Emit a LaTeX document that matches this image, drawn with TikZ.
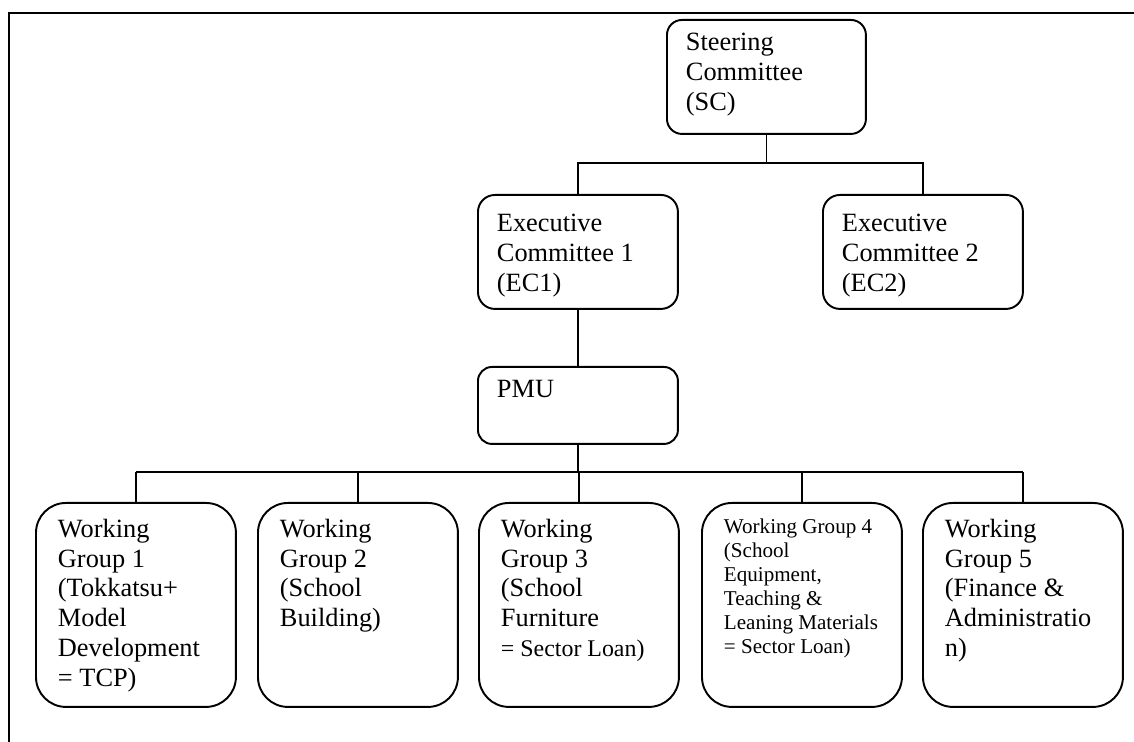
\documentclass[tikz,border=0pt]{standalone}
\usepackage{fontspec}
\setmainfont{Liberation Serif}
\newcommand{\boxtext}[3]{\parbox[c][#1][t]{#2}{\raggedright #3}}

\begin{document}
\begin{tikzpicture}[x=0.02cm,y=-0.02cm,font=\fontsize{15}{17}\selectfont,
  orgbox/.style={draw,line width=1.1pt,anchor=north west,inner xsep=0.38cm,inner ysep=0.3cm},
  wgbox/.style={orgbox,rounded corners=0.6cm,inner xsep=0.44cm,inner ysep=0.32cm},
  link/.style={line width=0.9pt}]
\useasboundingbox (0,0) rectangle (1134,742);
% --- page frame
\draw[line width=1.3pt] (9,760) -- (9,13) -- (1150,13);
% --- committees
\node[orgbox,rounded corners=0.3cm,inner ysep=0.26cm] (sc) at (666,19)
  {\boxtext{1.76cm}{3.22cm}{Steering\\Committee\\(SC)}};
\node[orgbox,rounded corners=0.34cm,inner ysep=0.38cm] (ec1) at (477,194)
  {\boxtext{1.52cm}{3.24cm}{Executive\\Committee 1\\(EC1)}};
\node[orgbox,rounded corners=0.34cm,inner ysep=0.38cm] (ec2) at (822,194)
  {\boxtext{1.52cm}{3.24cm}{Executive\\Committee 2\\(EC2)}};
\node[orgbox,rounded corners=0.28cm,inner ysep=0.26cm] (pmu) at (477,366)
  {\boxtext{1.02cm}{3.24cm}{PMU}};
% --- working groups
\node[wgbox] (wg1) at (35,502)
  {\boxtext{3.44cm}{3.12cm}{Working\\Group 1\\(Tokkatsu+\\Model\\Development\\= TCP)}};
\node[wgbox] (wg2) at (257,502)
  {\boxtext{3.44cm}{3.12cm}{Working\\Group 2\\(School\\Building)}};
\node[wgbox] (wg3) at (478,502)
  {\boxtext{3.44cm}{3.12cm}{Working\\Group 3\\(School\\Furniture\\\mbox{\fontsize{13.6}{17}\selectfont = Sector Loan)}}};
\node[wgbox] (wg4) at (701,502)
  {\boxtext{3.44cm}{3.12cm}{\fontsize{12}{13.6}\selectfont Working Group 4\\(School\\Equipment,\\Teaching \&\\Leaning Materials\\= Sector Loan)}};
\node[wgbox] (wg5) at (922,502)
  {\boxtext{3.44cm}{3.12cm}{Working\\Group 5\\(Finance \&\\Administratio\\n)}};
% --- connectors
\coordinate (scbus) at (766,163);
\coordinate (wgbus) at (578,472);
\draw[link] (sc.south) -- (sc.south |- scbus);
\draw[link] (ec1.north) -- (ec1.north |- scbus) -- (ec2.north |- scbus) -- (ec2.north);
\draw[link] (ec1.south) -- (pmu.north);
\draw[link] (pmu.south) -- (pmu.south |- wgbus);
\draw[link] (wg1.north |- wgbus) -- (wg5.north |- wgbus);
\foreach \i in {1,...,5} {\draw[link] (wg\i.north) -- (wg\i.north |- wgbus);}
\end{tikzpicture}
\end{document}
